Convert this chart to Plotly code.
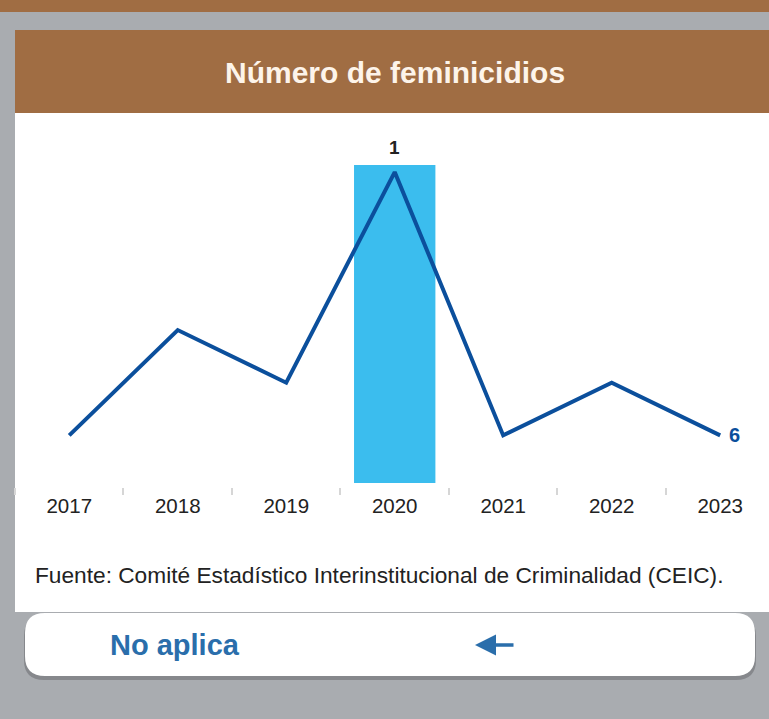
import plotly.graph_objects as go

W, H = 769, 719

years = ["2017", "2018", "2019", "2020", "2021", "2022", "2023"]
posicion = [6, 4, 5, 1, 6, 5, 6]
destacado = "2020"
titulo = "Número de feminicidios"
fuente = "Fuente: Comité Estadístico Interinstitucional de Criminalidad (CEIC)."
boton = "No aplica"

FONT = "Liberation Sans"
BROWN = "#a06d43"
GRAY = "#a9acb0"
LINE = "#0b4f9c"
BAR = "#3bbdee"
BLUE_TXT = "#2a6eab"


def px(x):
    return x / W


def py(y):
    return 1 - y / H


def rounded(x0, y0, x1, y1, r):
    # rounded rectangle path in paper coords, pixel input
    rx, ry = r / W, r / H
    a, b, c, d = px(x0), py(y0), px(x1), py(y1)
    return (f"M {a + rx},{b} L {c - rx},{b} Q {c},{b} {c},{b - ry} "
            f"L {c},{d + ry} Q {c},{d} {c - rx},{d} L {a + rx},{d} "
            f"Q {a},{d} {a},{d + ry} L {a},{b - ry} Q {a},{b} {a + rx},{b} Z")


fig = go.Figure()

fig.add_trace(go.Scatter(
    x=years, y=posicion,
    mode="lines",
    line=dict(color=LINE, width=4),
    hoverinfo="skip",
))

i_hl = years.index(destacado)
i_last = len(years) - 1

shapes = [
    # top brown strip
    dict(type="rect", xref="paper", yref="paper", x0=0, x1=1, y0=py(12), y1=1,
         fillcolor=BROWN, line_width=0, layer="below"),
    # card body
    dict(type="rect", xref="paper", yref="paper", x0=px(15), x1=1, y0=py(612), y1=py(113),
         fillcolor="white", line_width=0, layer="below"),
    # card header
    dict(type="rect", xref="paper", yref="paper", x0=px(15), x1=1, y0=py(113), y1=py(30),
         fillcolor=BROWN, line_width=0, layer="below"),
    # highlight band
    dict(type="rect", xref="x", yref="paper", x0=i_hl - 0.375, x1=i_hl + 0.375,
         y0=py(483), y1=py(165), fillcolor=BAR, line_width=0, layer="below"),
    # button shadow
    dict(type="path", xref="paper", yref="paper", path=rounded(24, 616, 756, 680, 20),
         fillcolor="#86888c", line_width=0, layer="above"),
    # button
    dict(type="path", xref="paper", yref="paper", path=rounded(25, 613, 755, 676, 20),
         fillcolor="white", line_width=0, layer="above"),
]

annotations = [
    # value labels (category index positions)
    dict(text="<b>%d</b>" % posicion[i_hl], x=i_hl, y=posicion[i_hl],
         xref="x", yref="y", showarrow=False, yshift=25,
         font=dict(family=FONT, size=19, color="#222222")),
    dict(text="<b>%d</b>" % posicion[i_last], x=i_last, y=posicion[i_last],
         xref="x", yref="y", showarrow=False, xanchor="left", xshift=7,
         font=dict(family=FONT, size=20, color=LINE)),
    dict(text="<b>%s</b>" % titulo, x=px(395), y=py(72), xref="paper", yref="paper",
         showarrow=False, xanchor="center", yanchor="middle",
         font=dict(family=FONT, size=30, color="#fdf4ea")),
    dict(text=fuente, x=px(33), y=py(575), xref="paper", yref="paper",
         showarrow=False, xanchor="left", yanchor="middle",
         font=dict(family=FONT, size=22.7, color="#222222")),
    dict(text="<b>%s</b>" % boton, x=px(108), y=py(645), xref="paper", yref="paper",
         showarrow=False, xanchor="left", yanchor="middle",
         font=dict(family=FONT, size=29, color=BLUE_TXT)),
    # back arrow
    dict(text="", x=px(475), y=py(645), xref="paper", yref="paper",
         showarrow=True, ax=40, ay=0, arrowhead=2, arrowsize=1.2, arrowwidth=3.5,
         arrowcolor=BLUE_TXT),
]

fig.update_layout(
    width=W, height=H,
    margin=dict(l=0, r=0, t=0, b=0),
    paper_bgcolor=GRAY,
    plot_bgcolor="rgba(0,0,0,0)",
    showlegend=False,
    shapes=shapes,
    annotations=annotations,
    xaxis=dict(
        type="category",
        domain=[px(15), 1],
        range=[-0.5, 6.45],
        tickson="boundaries",
        ticks="outside", ticklen=7, tickwidth=2, tickcolor="#d6d6d6",
        ticklabelstandoff=4,
        showgrid=False, zeroline=False, showline=False,
        tickfont=dict(family=FONT, size=20.5, color="#222222"),
        fixedrange=True,
    ),
    yaxis=dict(
        domain=[py(487), py(165)],
        range=[6.98, 0.866],
        visible=False,
        fixedrange=True,
    ),
)

fig.write_html("out.html", config={"displayModeBar": False},
               post_script="document.body.style.margin='0';")
